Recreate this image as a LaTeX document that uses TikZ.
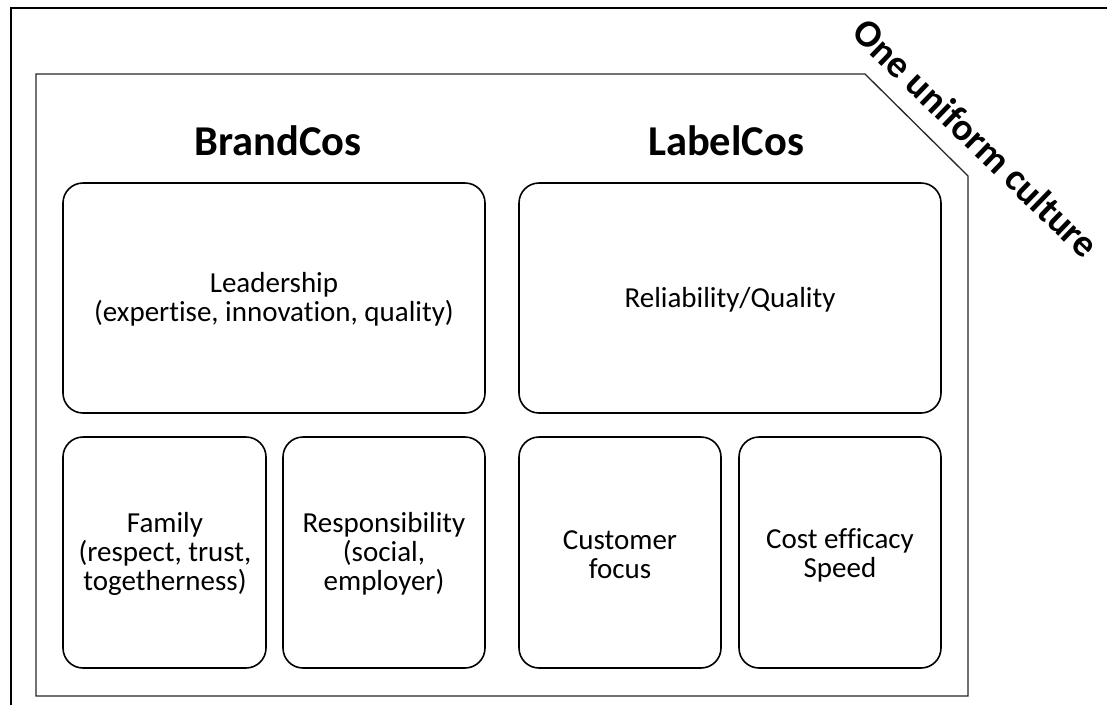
\documentclass[tikz,border=0pt]{standalone}
\usepackage{fontspec}
\setmainfont{Carlito}[Ligatures={NoCommon}]
\begin{document}
\begin{tikzpicture}[x=1pt,y=-1pt,
  card/.style={draw=black,line width=1.6pt,rounded corners=20pt},
  body/.style={align=center,font=\fontsize{29}{29}\selectfont},
  title/.style={font=\fontsize{42.5}{46}\selectfont\bfseries}]
\useasboundingbox (0,0) rectangle (1107,705);
% outer frame (top and left edges)
\coordinate (ftr) at (1107,8);
\coordinate (ftl) at (11,8);
\coordinate (fbl) at (11,705);
\draw[line width=1.8pt] (ftr) -- (ftl) -- (fbl);
% inner polygon
\draw[line width=1.3pt,draw=black!85] (36,74) -- (865,74) -- (968,176) -- (968,696) -- (36,696) -- cycle;
% titles
\node[title] (brand) at (278,141) {BrandCos};
\node[title] (label) at (726,141) {LabelCos};
% cards
\draw[card] (63,183) rectangle (485,413);
\node[body] (lead) at (274,299) {Leadership\\(expertise, innovation, quality)};
\draw[card] (519,183) rectangle (941,413);
\node[body] (rel) at (730,300) {Reliability/Quality};
\draw[card] (63,437) rectangle (266,668);
\node[body] (fam) at (165,554) {Family\\(respect, trust,\\togetherness)};
\draw[card] (283,437) rectangle (485,668);
\node[body] (resp) at (384,554) {Responsibility\\(social,\\employer)};
\draw[card] (519,437) rectangle (721,668);
\node[body] (cust) at (620,555) {Customer\\focus};
\draw[card] (739,437) rectangle (941,668);
\node[body] (cost) at (840,555) {Cost efficacy\\Speed};
% rotated label
\node[font=\fontsize{38.5}{42}\selectfont\bfseries,rotate=-44] (one) at (976,138) {One uniform culture};
\end{tikzpicture}
\end{document}
